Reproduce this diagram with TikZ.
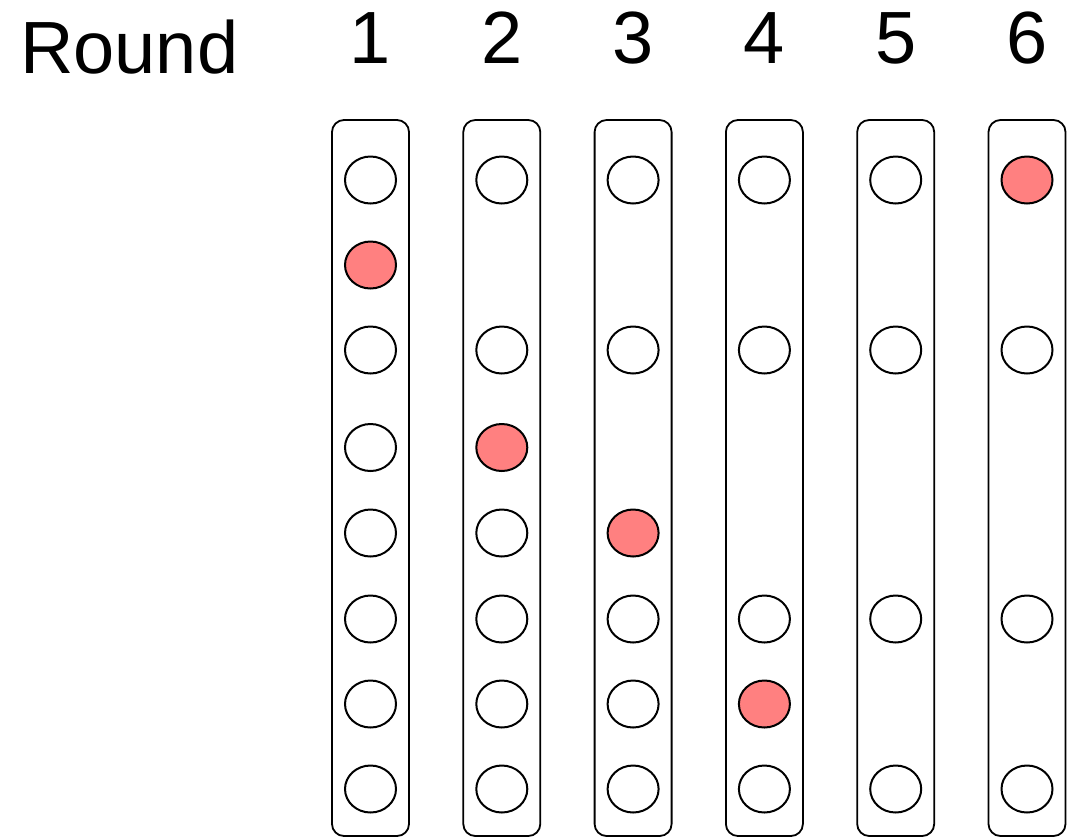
\documentclass[tikz,border=0pt]{standalone}
\usepackage{fontspec}
\setmainfont{Liberation Sans}
\usepackage{tikz}
\usetikzlibrary{shapes.geometric}
\definecolor{hitred}{HTML}{FF8080}
\tikzset{
  colbox/.style ={draw=black,line width=1.8pt,rounded corners=12pt,
                  minimum width=77pt,minimum height=716pt,inner sep=0pt},
  dot/.style    ={ellipse,draw=black,line width=2pt,fill=white,
                  minimum width=51pt,minimum height=47pt,inner sep=0pt},
  hitdot/.style ={dot,fill=hitred},
  lbl/.style    ={font=\fontsize{74}{80}\selectfont,inner sep=0pt},
}
\def\rowylist{{180,265,350,447.5,533,619,704,789}}

\begin{document}
\begin{tikzpicture}[x=1pt, y=-1pt]
\useasboundingbox (0,0) rectangle (1068,839);

\node[lbl,anchor=base west] (round) at (20,73) {Round};

%% one column per round: x / rows present / row that is hit
\foreach \c/\x/\rows/\hit in {
    1/370.5/{1,2,3,4,5,6,7,8}/2,
    2/501.8/{1,3,4,5,6,7,8}/4,
    3/633.1/{1,3,5,6,7,8}/5,
    4/764.4/{1,3,6,7,8}/7,
    5/895.7/{1,3,6,8}/0,
    6/1027/{1,3,6,8}/1}{
  \node[lbl,anchor=base] (num\c) at (\x,63) {\c};
  \node[colbox] (col\c) at (\x,478) {};
  \foreach \r in \rows {
    \pgfmathsetmacro\y{\rowylist[\r-1]}
    \ifnum\r=\hit \def\sty{hitdot}\else\def\sty{dot}\fi
    \node[\sty] (d\c-\r) at (\x,\y) {};
  }
}

\end{tikzpicture}
\end{document}
